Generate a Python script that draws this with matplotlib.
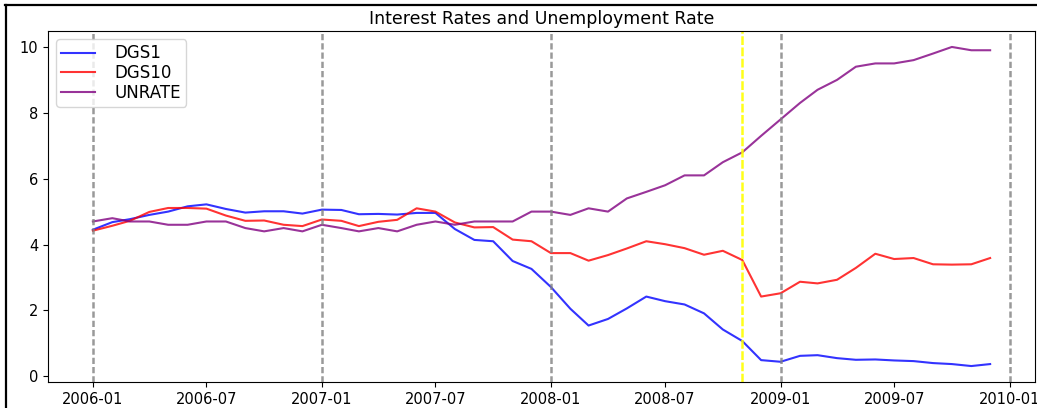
import matplotlib
matplotlib.use('Agg')
import matplotlib.pyplot as plt
from matplotlib.lines import Line2D
import pandas as pd

# monthly values, 2006-01 .. 2009-12
dates = pd.date_range('2006-01-01', '2009-12-01', freq='MS')

dgs1 = [4.45, 4.68, 4.77, 4.90, 5.00, 5.16, 5.22, 5.08, 4.97, 5.01, 5.01, 4.94,
        5.06, 5.05, 4.92, 4.93, 4.91, 4.96, 4.96, 4.47, 4.14, 4.10, 3.50, 3.26,
        2.71, 2.05, 1.54, 1.74, 2.06, 2.42, 2.28, 2.18, 1.91, 1.42, 1.07, 0.49,
        0.44, 0.62, 0.64, 0.55, 0.50, 0.51, 0.48, 0.46, 0.40, 0.37, 0.31, 0.37]

dgs10 = [4.42, 4.57, 4.72, 4.99, 5.11, 5.11, 5.09, 4.88, 4.72, 4.73, 4.60, 4.56,
         4.76, 4.72, 4.56, 4.69, 4.75, 5.10, 5.00, 4.67, 4.52, 4.53, 4.15, 4.10,
         3.74, 3.74, 3.51, 3.68, 3.88, 4.10, 4.01, 3.89, 3.69, 3.81, 3.53, 2.42,
         2.52, 2.87, 2.82, 2.93, 3.29, 3.72, 3.56, 3.59, 3.40, 3.39, 3.40, 3.59]

unrate = [4.7, 4.8, 4.7, 4.7, 4.6, 4.6, 4.7, 4.7, 4.5, 4.4, 4.5, 4.4,
          4.6, 4.5, 4.4, 4.5, 4.4, 4.6, 4.7, 4.6, 4.7, 4.7, 4.7, 5.0,
          5.0, 4.9, 5.1, 5.0, 5.4, 5.6, 5.8, 6.1, 6.1, 6.5, 6.8, 7.3,
          7.8, 8.3, 8.7, 9.0, 9.4, 9.5, 9.5, 9.6, 9.8, 10.0, 9.9, 9.9]

year_lines = ['2006-01-01', '2007-01-01', '2008-01-01', '2009-01-01', '2010-01-01']
event_line = '2008-11-01'

plt.rcParams['xtick.labelsize'] = 10.5
plt.rcParams['ytick.labelsize'] = 10.5

fig = plt.figure(figsize=(10.37, 4.08), dpi=100)
ax = fig.add_axes([48 / 1037, 1 - 382 / 408, (1035 - 48) / 1037, (382 - 31) / 408])

ax.plot(dates, dgs1, label='DGS1', color='blue', alpha=0.8)
ax.plot(dates, dgs10, label='DGS10', color='red', alpha=0.8)
ax.plot(dates, unrate, label='UNRATE', color='purple', alpha=0.8)

for d in year_lines:
    ax.axvline(pd.Timestamp(d), color='gray', linestyle=(0, (2.5, 1.2)), linewidth=1.8, alpha=0.8)
ax.axvline(pd.Timestamp(event_line), color='yellow', linestyle=(0, (3.5, 1.0)), linewidth=1.8, alpha=0.9)

ax.set_title('Interest Rates and Unemployment Rate', fontsize=12.5, pad=5)
ax.legend(loc='upper left', fontsize=12, labelspacing=0.1, borderpad=0.3,
          handletextpad=1.2, borderaxespad=0.5)

# screenshot frame (left and top edges)
fig.add_artist(Line2D([6 / 1037, 6 / 1037], [0, 1 - 5 / 408], transform=fig.transFigure,
                      color='black', linewidth=1.6))
fig.add_artist(Line2D([5 / 1037, 1], [1 - 5 / 408, 1 - 5 / 408], transform=fig.transFigure,
                      color='black', linewidth=1.6))

fig.savefig('out.png', dpi=100)
